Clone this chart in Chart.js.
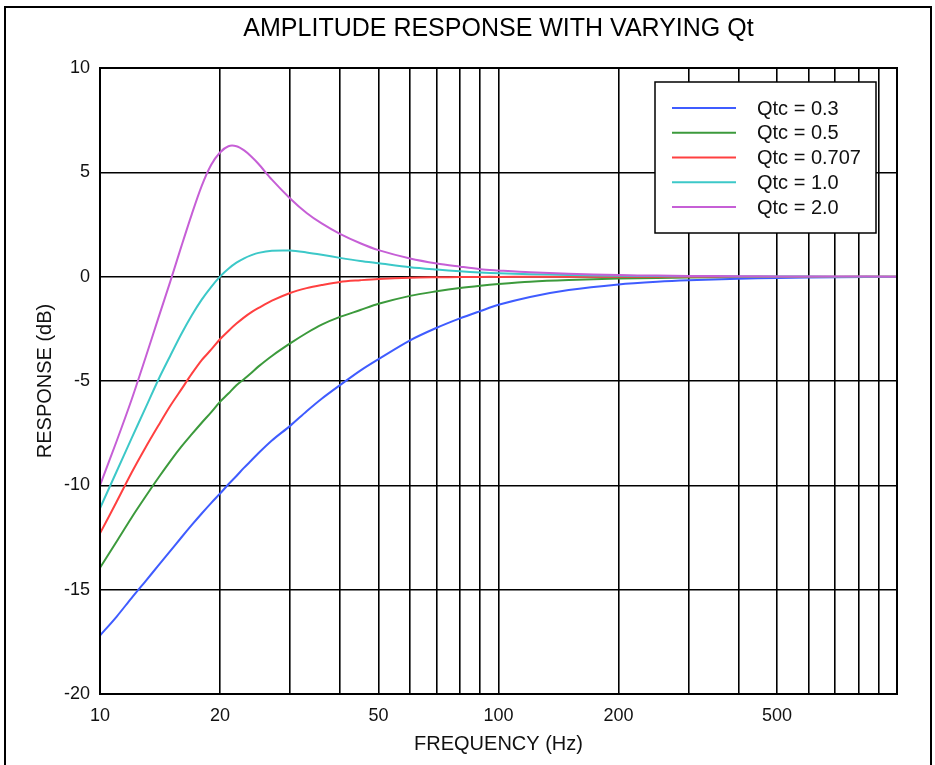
<!DOCTYPE html>
<html>
<head>
<meta charset="utf-8">
<script src="https://cdn.jsdelivr.net/npm/chart.js@4"></script>
<style>
  html, body { margin: 0; padding: 0; background: #fff; }
  #wrap { position: relative; width: 935px; height: 765px; overflow: hidden; }
  #frame { position: absolute; left: 4px; top: 6px; width: 924px; height: 800px; border: 2px solid #000; }
  #amp { position: absolute; left: 0; top: 0; }
</style>
</head>
<body>
<div id="wrap">
  <div id="frame"></div>
  <canvas id="amp" width="935" height="765"></canvas>
</div>
<script>
// frequencies (Hz) the curves were read at
const freqs = [10, 11, 12, 13, 14, 15, 16, 17, 18, 19, 20, 21, 22, 23, 24, 25, 27, 30, 33, 36,
               40, 45, 50, 60, 70, 80, 90, 100, 120, 150, 200, 250, 300, 400, 500, 700, 1000];

// response in dB
const q03 = [-17.2, -16.3, -15.4, -14.6, -13.85, -13.15, -12.5, -11.9, -11.35, -10.85, -10.4, -9.95, -9.55, -9.15, -8.8, -8.45, -7.85, -7.15, -6.45, -5.85,
             -5.2, -4.5, -3.95, -3.05, -2.45, -2.0, -1.65, -1.35, -0.97, -0.64, -0.37, -0.24, -0.17, -0.1, -0.06, -0.03, -0.015];
const q05 = [-13.95, -12.7, -11.55, -10.55, -9.65, -8.85, -8.15, -7.55, -7.0, -6.5, -6.0, -5.6, -5.2, -4.9, -4.6, -4.3, -3.8, -3.2, -2.7, -2.3,
             -1.93, -1.6, -1.3, -0.92, -0.7, -0.54, -0.43, -0.35, -0.24, -0.16, -0.09, -0.06, -0.04, -0.02, -0.015, -0.01, 0];
const q0707 = [-12.3, -10.8, -9.4, -8.2, -7.15, -6.2, -5.4, -4.65, -4.0, -3.5, -3.0, -2.6, -2.25, -1.95, -1.7, -1.5, -1.15, -0.78, -0.55, -0.4,
               -0.25, -0.17, -0.11, -0.05, -0.03, -0.02, -0.01, -0.01, 0, 0, 0, 0, 0, 0, 0, 0, 0];
const q10 = [-11.1, -9.35, -7.75, -6.3, -4.95, -3.8, -2.75, -1.85, -1.1, -0.5, 0, 0.38, 0.67, 0.88, 1.03, 1.14, 1.24, 1.25, 1.16, 1.05,
             0.9, 0.75, 0.64, 0.45, 0.34, 0.26, 0.2, 0.16, 0.12, 0.08, 0.045, 0.03, 0.02, 0.01, 0.005, 0, 0];
const q20 = [-10.0, -7.9, -5.9, -3.9, -2.0, -0.25, 1.45, 3.0, 4.35, 5.35, 5.95, 6.25, 6.25, 6.05, 5.75, 5.4, 4.65, 3.75, 3.05, 2.55,
             2.05, 1.6, 1.27, 0.87, 0.63, 0.48, 0.36, 0.3, 0.21, 0.14, 0.075, 0.05, 0.035, 0.02, 0.01, 0.005, 0];

const seriesLabels = ['Qtc = 0.3', 'Qtc = 0.5', 'Qtc = 0.707', 'Qtc = 1.0', 'Qtc = 2.0'];
const seriesColors = ['#3f5cff', '#3c9a3c', '#ff4040', '#3cc8c8', '#c65fd6'];

// grid lines on the log axis, and the ones that get a label
const freqGrid = [10, 20, 30, 40, 50, 60, 70, 80, 90, 100, 200, 300, 400, 500, 600, 700, 800, 900, 1000];
const freqLabels = [10, 20, 50, 100, 200, 500];

const chartTitle = 'AMPLITUDE RESPONSE WITH VARYING Qt';
const FONT = 'Liberation Sans, Arial, Helvetica, sans-serif';

function toPoints(vals) {
    return freqs.map((f, i) => ({ x: f, y: vals[i] }));
}

const allSeries = [q03, q05, q0707, q10, q20];
const datasets = allSeries.map((vals, i) => ({
    label: seriesLabels[i],
    data: toPoints(vals),
    borderColor: seriesColors[i],
    backgroundColor: seriesColors[i],
    borderWidth: 2,
    pointRadius: 0,
    tension: 0.3,
    order: allSeries.length - i   // last series drawn on top
}));

// title centred on the plot, box around plot, boxed legend top right
const framePlugin = {
    id: 'framePlugin',
    afterDraw(chart) {
        const { ctx, chartArea: a } = chart;
        ctx.save();
        ctx.fillStyle = '#000';
        ctx.font = '25px ' + FONT;
        ctx.textAlign = 'center';
        ctx.textBaseline = 'middle';
        ctx.fillText(chartTitle, (a.left + a.right) / 2, 29);

        ctx.strokeStyle = '#000';
        ctx.lineWidth = 2;
        ctx.strokeRect(a.left, a.top, a.right - a.left, a.bottom - a.top);

        const bx = a.right - 242, by = a.top + 14, bw = 221, bh = 151;
        ctx.fillStyle = '#fff';
        ctx.fillRect(bx, by, bw, bh);
        ctx.lineWidth = 1.5;
        ctx.strokeRect(bx, by, bw, bh);

        ctx.font = '20px ' + FONT;
        ctx.textAlign = 'left';
        chart.data.datasets.forEach((ds, i) => {
            const y = by + 26 + i * 24.75;
            ctx.strokeStyle = ds.borderColor;
            ctx.lineWidth = 2;
            ctx.beginPath();
            ctx.moveTo(bx + 17, y);
            ctx.lineTo(bx + 81, y);
            ctx.stroke();
            ctx.fillStyle = '#111';
            ctx.fillText(ds.label, bx + 102, y + 1);
        });
        ctx.restore();
    }
};

const ctx = document.getElementById('amp').getContext('2d');
const ampChart = new Chart(ctx, {
    type: 'line',
    data: { datasets: datasets },
    options: {
        responsive: false,
        animation: false,
        layout: { padding: { left: 0, right: 38, top: 68, bottom: 0 } },
        plugins: {
            legend: { display: false },
            tooltip: { enabled: false },
            title: { display: false }
        },
        scales: {
            x: {
                type: 'logarithmic',
                min: 10,
                max: 1000,
                afterBuildTicks(scale) {
                    scale.ticks = freqGrid.map(v => ({ value: v }));
                },
                afterFit(scale) { scale.height = 71; },
                grid: { color: '#000', lineWidth: 1.6, drawTicks: false },
                border: { display: true, color: '#000', width: 2 },
                ticks: {
                    autoSkip: false,
                    maxRotation: 0,
                    padding: 11,
                    color: '#111',
                    font: { family: FONT, size: 18 },
                    callback: v => freqLabels.includes(v) ? String(v) : ''
                },
                title: {
                    display: true,
                    text: 'FREQUENCY (Hz)',
                    color: '#111',
                    font: { family: FONT, size: 20 },
                    padding: { top: 0, bottom: 9 }
                }
            },
            y: {
                min: -20,
                max: 10,
                afterFit(scale) { scale.width = 100; },
                grid: { color: '#000', lineWidth: 1.6, drawTicks: false },
                border: { display: true, color: '#000', width: 2 },
                ticks: {
                    stepSize: 5,
                    padding: 10,
                    color: '#111',
                    font: { family: FONT, size: 18 }
                },
                title: {
                    display: true,
                    text: 'RESPONSE (dB)',
                    color: '#111',
                    font: { family: FONT, size: 20 },
                    padding: { top: 33, bottom: 0 }
                }
            }
        }
    },
    plugins: [framePlugin]
});
</script>
</body>
</html>
